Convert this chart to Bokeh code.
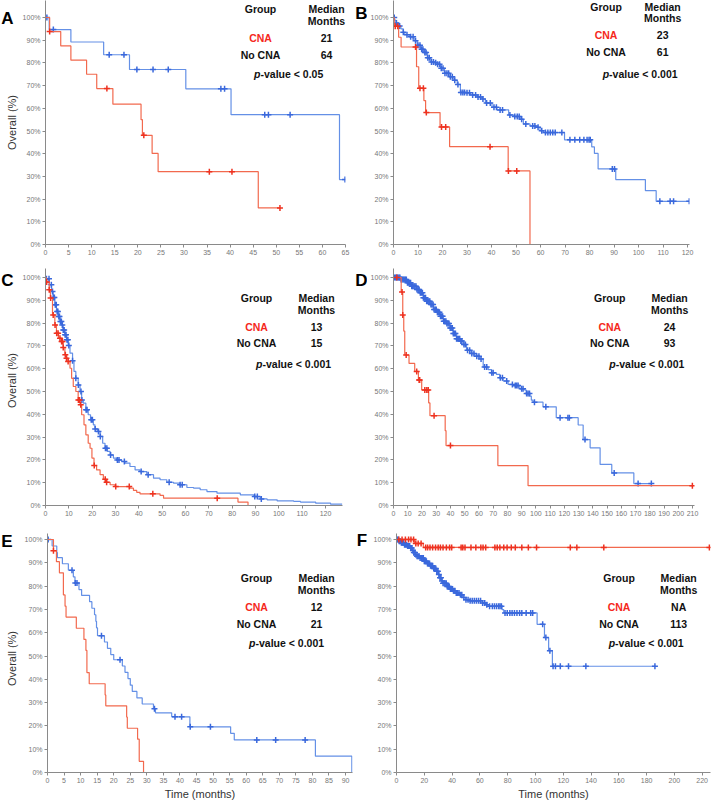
import numpy as np
from bokeh.plotting import figure
from bokeh.layouts import column, row
from bokeh.models import Label, FixedTicker, Range1d
from bokeh.embed import file_html
from bokeh.resources import INLINE

# ---------------- data (months, overall survival %) ----------------
# Panel A
a_cna_t = [0, 0.9, 3.3, 5.5, 8.9, 11.1, 14.6, 20.7, 21.0, 23.1, 24.4, 46.1, 50.8]
a_cna_s = [100, 93.8, 87.5, 81.2, 75.0, 68.7, 61.8, 55.0, 48.1, 40.1, 32.1, 16.1, 16.1]
a_cna_c = [0.9, 13.3, 21.3, 35.5, 40.4, 50.8]
a_no_t = [0, 0.8, 5.5, 12.6, 18.2, 30.4, 40.2, 63.7, 64.9]
a_no_s = [100, 94.7, 89.2, 83.6, 77.1, 68.6, 57.2, 28.6, 28.6]
a_no_c = [0.3, 1.7, 13.8, 17.0, 19.8, 23.3, 26.6, 38.0, 38.8, 47.5, 48.3, 53.0, 64.9]

# Panel B
b_cna_t = [0, 0.3, 2.1, 3.1, 9.4, 10.3, 12.4, 13.1, 19.0, 22.9, 46.8, 55.7]
b_cna_s = [100, 96.1, 91.3, 87.0, 78.3, 68.8, 63.4, 58.1, 51.8, 43.1, 32.4, 0]
b_cna_c = [0.7, 1.7, 9.0, 10.8, 12.2, 13.4, 19.6, 21.3, 39.4, 46.9, 50.3]
b_no_t = [0, 0.4, 1.0, 2.0, 3.0, 4.0, 4.6, 6.4, 8.4, 9.7, 11.1, 12.4, 13.8, 15.2, 16.8,
          17.9, 19.2, 20.8, 22.6, 24.6, 26.0, 27.3, 29.4, 31.4, 34.1, 36.1, 37.5, 40.2,
          42.2, 47.0, 49.0, 51.7, 53.0, 55.7, 58.5, 59.8, 61.2, 69.8, 80.9, 82.0, 83.5,
          90.7, 102.8, 107.2, 120.7]
b_no_s = [100, 98.8, 97.6, 96.3, 95.0, 93.5, 92.4, 91.5, 89.8, 87.8, 86.0, 84.6, 82.3, 80.4, 80.1,
          79.4, 77.6, 75.4, 73.9, 72.4, 70.5, 67.0, 66.8, 65.9, 65.0, 64.1, 62.3, 60.5,
          59.3, 57.1, 56.4, 55.2, 53.1, 52.2, 51.6, 50.1, 49.3, 46.1, 43.0, 40.1, 33.3,
          28.6, 23.7, 19.0, 19.0]
b_no_c = [0.3, 1.2, 2.5, 4.0, 5.5, 7.0, 8.0, 9.0, 10.0, 10.8, 11.5, 12.0, 12.8, 13.3, 14.0,
          14.6, 15.5, 16.3, 17.2, 18.0, 18.8, 19.5, 20.2, 21.0, 21.8, 22.5, 23.2, 24.0, 25.0,
          26.3, 27.5, 28.3, 29.0, 30.0, 31.0, 32.3, 33.5, 34.5, 35.5, 36.5, 38.0, 39.5, 41.0,
          42.0, 43.5, 44.5, 47.5, 49.5, 50.5, 51.3, 52.3, 54.0, 56.8, 57.7, 59.0, 60.5, 62.0,
          63.0, 64.0, 65.0, 66.0, 68.7, 72.0, 74.0, 76.0, 77.7, 79.0, 79.8, 80.3, 89.3, 90.2,
          108.7, 112.9, 114.3, 120.7]

# Panel C
c_cna_t = [0, 0.3, 1.6, 2.1, 3.0, 4.0, 4.7, 5.6, 6.9, 7.6, 8.3, 9.0, 9.7, 10.5, 11.2, 11.9,
           13.0, 14.0, 14.8, 15.5, 16.5, 17.3, 18.3, 19.1, 19.9, 20.8, 21.9, 23.4, 24.8, 26.2,
           27.7, 29.8, 36.2, 37.7, 39.1, 40.5, 49.1, 50.6, 82.5, 86.8]
c_cna_s = [100, 98.0, 94.6, 91.0, 83.6, 79.2, 75.6, 73.4, 71.9, 69.3, 66.1, 64.6, 63.2, 60.2, 55.8, 52.2,
           50.0, 46.3, 44.2, 39.8, 35.4, 31.0, 27.3, 25.1, 20.8, 17.5, 15.6, 13.5, 11.5, 10.2,
           9.1, 8.3, 7.6, 6.6, 5.8, 5.1, 4.4, 3.2, 1.5, 0]
c_cna_c = [0.5, 1.6, 2.2, 3.3, 4.1, 4.8, 5.4, 6.2, 6.9, 7.3, 7.6, 8.5, 9.0, 9.7, 14.1, 14.6,
           15.1, 20.9, 25.6, 26.2, 30.1, 35.9, 46.0, 73.6]
c_no_t = [0, 0.4, 1.6, 2.6, 3.3, 4.0, 4.7, 5.4, 6.2, 6.9, 7.6, 8.3, 9.0, 9.7, 10.5, 11.6, 12.2,
          13.0, 14.0, 14.8, 15.5, 16.2, 17.3, 18.3, 19.3, 20.5, 21.2, 22.2, 23.4, 24.5, 25.5,
          26.5, 27.7, 29.1, 30.5, 32.7, 34.1, 36.2, 38.4, 40.5, 43.4, 46.3, 49.1, 52.0, 54.9,
          57.7, 60.6, 63.5, 66.3, 69.2, 73.5, 83.5, 89.3, 92.1, 95.0, 99.3, 106.4, 109.3,
          115.8, 122.2, 127.2]
c_no_s = [100, 99.4, 96.8, 93.9, 91.2, 88.0, 85.1, 82.9, 80.7, 79.2, 77.0, 74.9, 72.7, 70.2, 66.8,
          63.5, 58.8, 55.8, 52.9, 50.0, 46.3, 44.9, 42.0, 39.8, 37.6, 35.4, 33.6, 32.5, 30.3,
          27.3, 25.1, 23.7, 22.2, 20.8, 20.0, 19.3, 18.6, 17.1, 15.6, 14.9, 13.5, 12.0, 11.3,
          10.2, 9.8, 9.1, 7.9, 7.6, 6.9, 6.1, 5.4, 4.7, 3.9, 2.9, 2.5, 2.0, 1.8, 1.5, 1.0,
          0.6, 0.6]
c_no_c = [0.4, 1.5, 2.5, 3.0, 3.4, 3.8, 4.2, 4.6, 5.0, 5.3, 5.7, 6.0, 6.4, 6.8, 7.2, 7.6, 8.0,
          8.4, 8.8, 9.2, 9.6, 10.0, 11.6, 13.0, 14.1, 15.2, 15.6, 17.4, 17.8, 19.6, 20.1, 21.3,
          22.7, 23.5, 25.7, 26.3, 27.9, 30.8, 31.5, 33.8, 41.0, 44.0, 53.0, 57.7, 58.6, 89.7,
          90.8, 92.5]

# Panel D
d_cna_t = [0, 5.4, 6.5, 7.2, 7.9, 10.9, 14.9, 17.5, 19.8, 24.7, 25.6, 36.3, 36.9, 73.3, 94.5, 210.5]
d_cna_s = [100, 93.6, 83.5, 76.5, 66.0, 62.3, 58.8, 55.0, 50.7, 45.0, 39.4, 32.8, 26.3, 17.5, 8.7, 8.7]
d_cna_c = [2.3, 6.0, 6.5, 8.9, 16.3, 18.0, 18.4, 22.0, 23.4, 24.4, 28.5, 40.0, 209.9]
d_no_t = [0, 4.7, 9.3, 12.8, 16.3, 18.7, 21.0, 23.3, 25.7, 28.0, 30.3, 32.7, 35.0, 37.3, 39.7,
          42.0, 44.3, 46.7, 49.0, 51.3, 53.7, 57.2, 60.7, 63.0, 66.5, 68.8, 72.3, 74.7, 77.0,
          80.5, 84.0, 88.7, 92.2, 93.3, 95.7, 96.8, 98.0, 105.0, 114.3, 129.7, 133.2, 138.1,
          145.1, 153.3, 168.8, 181.5]
d_no_s = [100, 99.1, 97.7, 96.2, 94.7, 93.3, 91.1, 89.6, 88.2, 86.0, 84.8, 83.0, 80.8, 79.8, 77.9,
          75.4, 73.1, 72.1, 70.6, 68.1, 66.7, 65.5, 64.3, 60.7, 59.6, 58.2, 57.5, 56.0, 54.6,
          53.1, 52.6, 51.2, 50.6, 49.1, 48.0, 46.2, 45.3, 43.3, 38.5, 35.3, 28.9, 25.3,
          18.0, 14.3, 9.6, 9.6]
d_no_c = [0.8, 1.5, 2.3, 3.0, 3.8, 4.5, 5.3, 6.0, 6.8, 7.5, 8.3, 9.0, 9.8, 10.5, 11.3, 12.0, 12.8,
          13.5, 14.3, 15.0, 15.8, 16.5, 17.3, 18.0, 18.8, 19.5, 20.3, 21.0, 21.8, 22.5, 23.3,
          24.0, 24.8, 25.5, 26.3, 27.0, 27.8, 28.5, 29.3, 30.0, 30.8, 31.5, 32.3, 33.0, 33.8,
          34.5, 35.3, 36.0, 36.8, 37.5, 38.3, 39.0, 39.8, 40.5, 41.3, 42.0, 42.8, 43.5, 44.3,
          45.0, 45.8, 46.5, 47.3, 48.0, 49.5, 50.5, 52.0, 53.5, 55.0, 56.5, 58.5, 60.0, 61.5,
          64.0, 65.5, 69.0, 70.0, 75.0, 76.5, 79.5, 83.5, 85.5, 86.5, 87.5, 90.0, 91.0, 93.5,
          94.5, 95.5, 99.0, 107.0, 117.0, 122.5, 123.5, 134.5, 155.0, 171.8, 181.1]

# Panel E
e_cna_t = [0, 1.8, 2.7, 3.6, 4.8, 5.3, 5.6, 8.7, 11.0, 11.6, 11.9, 12.6, 17.4, 17.6, 23.9, 24.1, 27.2, 27.7, 29.0]
e_cna_s = [100, 95.2, 90.5, 85.7, 76.2, 71.4, 66.7, 61.9, 57.1, 52.4, 42.9, 38.1, 33.3, 28.6, 23.8, 19.0, 14.3, 4.8, 0]
e_cna_c = [1.8]
e_no_t = [0, 1.4, 2.8, 3.0, 4.5, 6.3, 7.8, 8.3, 9.5, 10.3, 12.7, 13.4, 14.2, 14.6, 14.8, 15.1, 17.2,
          18.1, 19.1, 20.0, 22.6, 23.4, 24.3, 25.0, 25.6, 27.0, 28.6, 32.0, 32.6, 37.5, 43.0,
          55.3, 56.4, 80.9, 91.9]
e_no_s = [100, 97.2, 94.4, 92.2, 89.6, 86.8, 84.0, 81.3, 78.5, 76.0, 73.3, 70.5, 67.7, 64.9, 62.1,
          58.7, 56.0, 53.3, 50.6, 48.4, 45.7, 43.0, 40.3, 37.5, 34.8, 32.0, 29.4, 27.4, 25.6,
          23.9, 19.6, 16.8, 14.0, 7.0, 0]
e_no_c = [0.2, 7.4, 8.4, 8.9, 16.3, 21.9, 32.3, 38.5, 40.5, 43.1, 49.2, 63.2, 68.9, 77.8]

# Panel F
f_cna_t = [0, 13.0, 19.3, 226]
f_cna_s = [100, 98.3, 96.6, 96.6]
f_cna_c = [1.7, 4.0, 6.4, 8.7, 10.4, 12.3, 13.9, 15.6, 17.7, 21.0, 22.4, 24.1, 26.0, 28.1, 30.0,
           31.6, 33.5, 35.9, 38.2, 39.7, 46.5, 47.7, 49.3, 53.6, 57.1, 60.7, 62.3, 64.2, 70.8,
           72.5, 74.4, 77.2, 79.6, 82.6, 85.5, 90.2, 94.9, 100.8, 125.1, 129.8, 149.2, 225.2]
f_no_t = [0, 1.7, 2.8, 5.2, 7.6, 9.9, 11.1, 12.3, 13.5, 14.6, 17.0, 19.4, 21.7, 24.1, 26.4, 28.8,
          30.0, 31.2, 32.3, 33.5, 35.9, 38.2, 40.6, 43.0, 45.3, 47.7, 50.0, 52.4, 61.9, 64.2,
          66.6, 76.0, 77.2, 101.2, 106.5, 109.5, 112.2, 186.0]
f_no_s = [100, 99.3, 98.6, 97.7, 97.2, 96.3, 95.3, 94.4, 93.5, 92.8, 92.1, 90.7, 89.7, 88.7, 87.6,
          86.4, 85.0, 83.6, 82.2, 81.2, 79.8, 78.8, 78.0, 77.0, 76.3, 75.1, 74.1, 73.7, 72.7,
          72.0, 71.3, 69.9, 68.5, 63.6, 57.9, 52.3, 45.6, 45.6]
f_no_c = [0.5, 1.2, 2.0, 2.7, 3.5, 4.2, 5.0, 5.8, 6.5, 7.3, 8.0, 8.8, 9.5, 10.3, 11.0, 11.8, 12.5,
          13.3, 14.0, 14.8, 15.5, 16.3, 17.0, 17.8, 18.5, 19.3, 20.0, 20.8, 21.5, 22.3, 23.0,
          23.8, 24.5, 25.3, 26.0, 26.8, 27.5, 28.3, 29.0, 29.8, 30.5, 31.3, 32.0, 32.8, 33.5,
          34.3, 35.0, 35.8, 36.5, 37.3, 38.0, 38.8, 39.5, 40.3, 41.0, 42.0, 43.0, 44.0, 45.0,
          46.0, 47.0, 48.5, 50.0, 51.5, 53.0, 54.5, 56.0, 57.5, 59.0, 60.5, 62.0, 63.5, 65.0,
          67.0, 69.0, 70.5, 72.0, 73.5, 74.5, 75.5, 78.1, 79.7, 81.6, 83.2, 84.9, 86.7, 88.6,
          90.2, 93.3, 96.6, 98.0, 105.2, 107.5, 110.4, 112.7, 114.4, 117.9, 123.8, 136.3, 186.0]

# Summary table texts
panel_letters = ["A", "B", "C", "D", "E", "F"]
median_cna = ["21", "23", "13", "24", "12", "NA"]
median_no = ["64", "61", "15", "93", "21", "113"]
p_values = ["< 0.05", "< 0.001", "< 0.001", "< 0.001", "< 0.001", "< 0.001"]
y_ticks = [0, 10, 20, 30, 40, 50, 60, 70, 80, 90, 100]

# ---------------- styling / geometry ----------------
FONT = "Liberation Sans"
BLUE_LINE = "#6490e6"
BLUE_MK = "#3a68dc"
RED_LINE = "#f2694e"
RED_MK = "#ee3220"
RED_TXT = "#f5281c"

# rows: (page top, height, border top, border bottom, page y of 100%)
ROWS = [(0, 266, 0, 22, 17), (266, 264, 2, 25, 277), (530, 272, 3, 30, 539)]


def row_geom(r):
    top, h, bt, bb, y100 = ROWS[r]
    frame_h = h - bt - bb
    y0 = top + bt + frame_h          # page y of 0 %
    ky = (y0 - y100) / 100.0         # px per %
    return h, bt, bb, y0, ky, frame_h / ky


def make_panel(r, fig_x, w, bl, br, xmax, xticks, xlabel=None):
    h, bt, bb, y0, ky, ytop = row_geom(r)
    p = figure(width=w, height=h, output_backend="svg", toolbar_location=None,
               x_range=Range1d(0, xmax), y_range=Range1d(0, ytop),
               min_border_left=bl, min_border_right=br, min_border_top=bt,
               min_border_bottom=bb)
    p.outline_line_color = None
    p.grid.visible = False
    for ax in (p.xaxis[0], p.yaxis[0]):
        ax.axis_line_color = "#8a8a8a"
        ax.major_tick_line_color = "#8a8a8a"
        ax.minor_tick_line_color = None
        ax.major_tick_in = 0
        ax.major_tick_out = 3
        ax.major_label_text_font = FONT
        ax.major_label_text_font_size = "7px"
        ax.major_label_text_color = "#777777"
        ax.major_label_standoff = 2
    p.xaxis.ticker = FixedTicker(ticks=xticks)
    p.yaxis.ticker = FixedTicker(ticks=y_ticks)
    p.yaxis.major_label_overrides = {v: f"{v}%" for v in y_ticks}
    if xlabel:
        p.xaxis.axis_label = xlabel
        p.xaxis.axis_label_text_font = FONT
        p.xaxis.axis_label_text_font_size = "11px"
        p.xaxis.axis_label_text_font_style = "normal"
        p.xaxis.axis_label_text_color = "#333333"
        p.xaxis.axis_label_standoff = 2
    # mapping page px -> data for annotation placement
    x0 = fig_x + bl
    kx = (w - bl - br) / xmax
    p.tags = []
    return p, (x0, kx, y0, ky)


def make_side(r, w):
    h, bt, bb, y0, ky, ytop = row_geom(r)
    s = figure(width=w, height=h, output_backend="svg", toolbar_location=None,
               x_range=Range1d(0, w), y_range=Range1d(0, ytop),
               min_border_left=0, min_border_right=0, min_border_top=bt,
               min_border_bottom=bb, x_axis_location=None, y_axis_location=None)
    s.outline_line_color = None
    s.grid.visible = False
    return s, (y0, ky)


def draw_curve(p, t, s, cens, line_color, mk_color):
    p.step(t, s, mode="after", line_color=line_color, line_width=1.2)
    ta = np.array(t, dtype=float)
    sa = np.array(s, dtype=float)
    idx = np.clip(np.searchsorted(ta, np.array(cens, dtype=float), side="right") - 1, 0, len(sa) - 1)
    p.scatter(cens, sa[idx], marker="cross", size=6, line_color=mk_color, line_width=1.5)


def lab(p, x, y, txt, color="#111111", align="center", style="bold", size="10.5px", angle=0.0):
    p.add_layout(Label(x=x, y=y, text=txt, text_color=color, text_align=align,
                       text_font_style=style, text_font=FONT, text_font_size=size,
                       text_baseline="middle", angle=angle))


def add_table(p, m, i, gx, mx, ps, yg, ym, yc, yn, yp):
    x0, kx, y0, ky = m
    X = lambda px: (px - x0) / kx
    Y = lambda py: (y0 - py) / ky
    lab(p, X(gx), Y(yg), "Group")
    lab(p, X(mx), Y(yg), "Median")
    lab(p, X(mx), Y(ym), "Months")
    lab(p, X(gx), Y(yc), "CNA", color=RED_TXT)
    lab(p, X(mx), Y(yc), median_cna[i])
    lab(p, X(gx), Y(yn), "No CNA")
    lab(p, X(mx), Y(yn), median_no[i])
    lab(p, X(ps), Y(yp), "p", align="right", style="bold italic")
    lab(p, X(ps), Y(yp), "-value " + p_values[i], align="left")


def add_side(s, sm, i, lx, ly, ylab_x=None, ylab_y=None):
    y0, ky = sm
    lab(s, lx, (y0 - ly) / ky, panel_letters[i], color="#000000", size="17px")
    if ylab_x is not None:
        lab(s, ylab_x, (y0 - ylab_y) / ky, "Overall (%)", color="#333333",
            style="normal", size="11px", angle=np.pi / 2)


# ---- Row 1 ----
sA, smA = make_side(0, 19)
add_side(sA, smA, 0, 7, 18, 11.5, 122)
pA, mA = make_panel(0, 19, 331, 26, 5, 65, list(range(0, 66, 5)))
draw_curve(pA, a_no_t, a_no_s, a_no_c, BLUE_LINE, BLUE_MK)
draw_curve(pA, a_cna_t, a_cna_s, a_cna_c, RED_LINE, RED_MK)
add_table(pA, mA, 0, 260, 326, 260, 8, 20, 37, 54, 73)

sB, smB = make_side(0, 17)
add_side(sB, smB, 1, 11, 13)
pB, mB = make_panel(0, 367, 347, 24, 25, 120.8, list(range(0, 121, 10)))
draw_curve(pB, b_no_t, b_no_s, b_no_c, BLUE_LINE, BLUE_MK)
draw_curve(pB, b_cna_t, b_cna_s, b_cna_c, RED_LINE, RED_MK)
add_table(pB, mB, 1, 605, 662, 608, 6, 17, 34, 51, 73)

# ---- Row 2 ----
sC, smC = make_side(1, 19)
add_side(sC, smC, 2, 7, 280, 11.5, 380)
pC, mC = make_panel(1, 19, 331, 26, 8, 127.3, list(range(0, 121, 10)))
draw_curve(pC, c_no_t, c_no_s, c_no_c, BLUE_LINE, BLUE_MK)
draw_curve(pC, c_cna_t, c_cna_s, c_cna_c, RED_LINE, RED_MK)
add_table(pC, mC, 2, 256, 316, 262, 297, 309, 326, 342, 363)

sD, smD = make_side(1, 17)
add_side(sD, smD, 3, 11, 280)
pD, mD = make_panel(1, 367, 347, 25, 20, 211.4, list(range(0, 211, 10)))
draw_curve(pD, d_no_t, d_no_s, d_no_c, BLUE_LINE, BLUE_MK)
draw_curve(pD, d_cna_t, d_cna_s, d_cna_c, RED_LINE, RED_MK)
add_table(pD, mD, 3, 609, 669, 615, 297, 309, 326, 342, 363)

# ---- Row 3 ----
sE, smE = make_side(2, 21)
add_side(sE, smE, 4, 6.5, 541, 11.5, 658)
pE, mE = make_panel(2, 21, 335, 26, 4, 92.1, list(range(0, 91, 5)), xlabel="Time (months)")
draw_curve(pE, e_no_t, e_no_s, e_no_c, BLUE_LINE, BLUE_MK)
draw_curve(pE, e_cna_t, e_cna_s, e_cna_c, RED_LINE, RED_MK)
add_table(pE, mE, 4, 256, 316, 255, 577, 589, 606, 623, 642)

sF, smF = make_side(2, 14)
add_side(sF, smF, 5, 5.5, 540)
pF, mF = make_panel(2, 370, 344, 24, 4, 226, list(range(0, 221, 20)), xlabel="Time (months)")
draw_curve(pF, f_no_t, f_no_s, f_no_c, BLUE_LINE, BLUE_MK)
draw_curve(pF, f_cna_t, f_cna_s, f_cna_c, RED_LINE, RED_MK)
add_table(pF, mF, 5, 618, 678, 614, 577, 589, 606, 623, 642)

layout = column(row(sA, pA, sB, pB), row(sC, pC, sD, pD), row(sE, pE, sF, pF))
open("out.html", "w").write(file_html(layout, INLINE))
